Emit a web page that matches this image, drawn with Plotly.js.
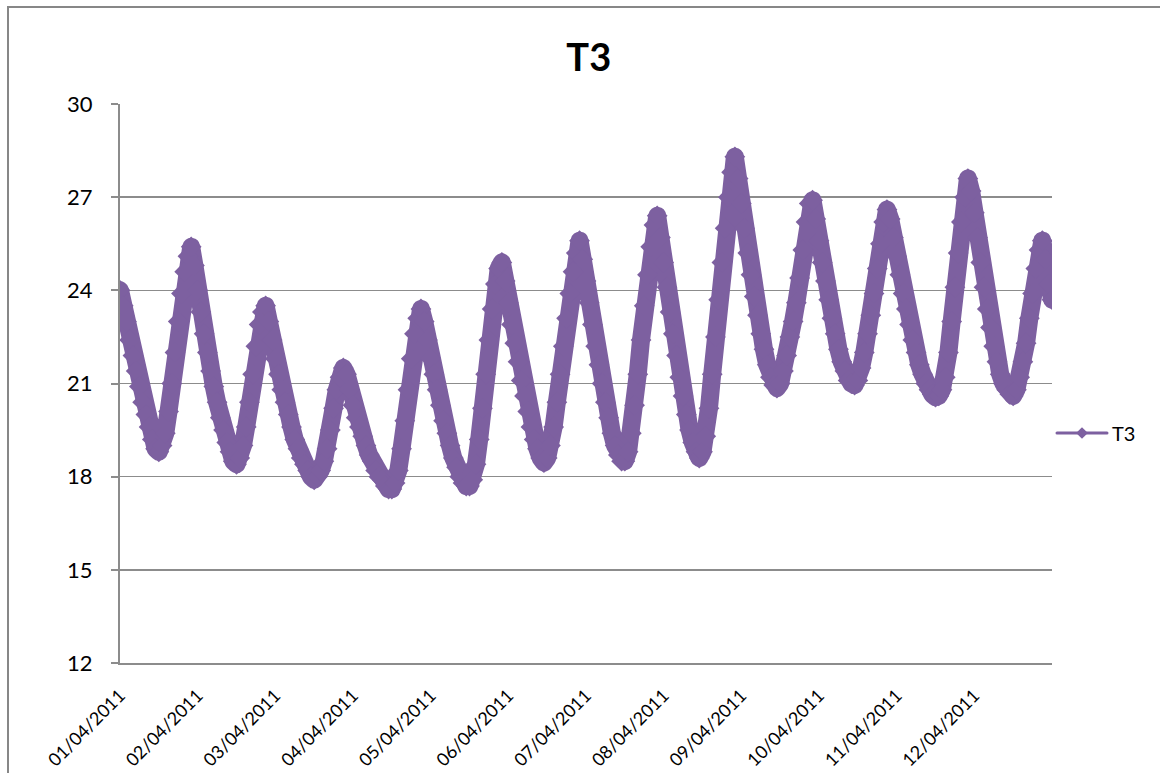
<!DOCTYPE html>
<html>
<head>
<meta charset="utf-8">
<script src="https://cdn.plot.ly/plotly-3.0.1.min.js"></script>
<style>
  html, body { margin: 0; padding: 0; background: #ffffff; }
  #chart { position: absolute; left: 0; top: 0; width: 1160px; height: 773px; }
  #frame { position: absolute; left: 7px; top: 6px; width: 1200px; height: 800px;
           border-left: 2px solid #878787; border-top: 2px solid #878787; pointer-events: none; }
  .js-line { stroke-linejoin: round !important; stroke-linecap: round !important; }
</style>
</head>
<body>
<div id="chart"></div>
<div id="frame"></div>
<script>
// Hourly readings of T3 starting 01/04/2011 00:00
const seriesName = 'T3';
const startTime = '2011-04-01 00:00';
const endTime = '2011-04-13 00:00';
const t3Values = [
  24.0, 23.5, 23.0, 22.4, 21.9, 21.4, 20.9, 20.4, 20.0, 19.6, 19.2, 18.9, 18.8,
  19.0, 19.4, 20.1, 21.0, 22.0, 23.0, 23.9, 24.6, 25.1, 25.4,
  24.8, 24.0, 23.3, 22.6, 22.0, 21.4, 20.9, 20.4, 19.9, 19.5, 19.1, 18.8, 18.5, 18.4,
  18.6, 19.0, 19.6, 20.4, 21.3, 22.2, 22.9, 23.3, 23.5,
  23.0, 22.4, 21.8, 21.3, 20.8, 20.4, 20.0, 19.6, 19.2, 18.9, 18.6, 18.4, 18.2, 18.0, 17.9,
  18.0, 18.2, 18.5, 18.9, 19.5, 20.2, 20.8, 21.2, 21.5,
  21.3, 20.8, 20.3, 19.9, 19.6, 19.3, 19.0, 18.7, 18.5, 18.2, 18.0, 17.9, 17.7, 17.6, 17.6,
  17.8, 18.2, 18.9, 19.8, 20.8, 21.8, 22.6, 23.1, 23.4,
  23.0, 22.4, 21.8, 21.3, 20.8, 20.3, 19.8, 19.4, 19.0, 18.6, 18.3, 18.0, 17.8, 17.7, 17.7,
  17.9, 18.4, 19.2, 20.2, 21.3, 22.4, 23.4, 24.2, 24.7, 24.9,
  24.3, 23.6, 22.9, 22.3, 21.7, 21.1, 20.6, 20.1, 19.6, 19.2, 18.9, 18.6, 18.45,
  18.6, 19.0, 19.6, 20.4, 21.3, 22.2, 23.1, 23.9, 24.6, 25.2, 25.6,
  25.0, 24.3, 23.6, 22.9, 22.2, 21.6, 21.0, 20.4, 19.9, 19.4, 19.0, 18.7, 18.5, 18.5,
  18.8, 19.4, 20.3, 21.3, 22.4, 23.5, 24.5, 25.4, 26.1, 26.4,
  25.7, 24.9, 24.1, 23.3, 22.6, 21.9, 21.2, 20.6, 20.0, 19.5, 19.1, 18.8, 18.6,
  18.8, 19.3, 20.2, 21.3, 22.5, 23.7, 24.9, 26.0, 27.0, 27.8, 28.3,
  27.6, 26.8, 26.0, 25.2, 24.5, 23.8, 23.2, 22.6, 22.1, 21.6, 21.2, 20.95, 20.85,
  21.0, 21.4, 21.9, 22.5, 23.0, 23.6, 24.4, 25.3, 26.2, 26.8, 26.9,
  26.3, 25.6, 24.9, 24.3, 23.7, 23.1, 22.6, 22.1, 21.7, 21.4, 21.1, 21.0, 20.95,
  21.1, 21.5, 22.0, 22.6, 23.2, 23.9, 24.7, 25.5, 26.2, 26.6,
  26.3, 25.7, 25.1, 24.5, 23.9, 23.4, 22.9, 22.4, 22.0, 21.6, 21.3, 21.0, 20.8, 20.65, 20.56, 20.6,
  20.8, 21.2, 22.0, 23.0, 24.1, 25.2, 26.2, 27.0, 27.6,
  27.2, 26.5, 25.7, 24.9, 24.1, 23.4, 22.8, 22.2, 21.7, 21.3, 21.0, 20.8, 20.65, 20.6,
  20.8, 21.2, 21.7, 22.3, 23.1, 23.9, 24.7, 25.3, 25.6, 25.0, 24.2, 23.7
];
const dayTicks = ['2011-04-01','2011-04-02','2011-04-03','2011-04-04','2011-04-05','2011-04-06',
                  '2011-04-07','2011-04-08','2011-04-09','2011-04-10','2011-04-11','2011-04-12'];
const dayLabels = ['01/04/2011','02/04/2011','03/04/2011','04/04/2011','05/04/2011','06/04/2011',
                   '07/04/2011','08/04/2011','09/04/2011','10/04/2011','11/04/2011','12/04/2011'];
const yTicks = [12, 15, 18, 21, 24, 27, 30];

const purple = '#7D60A0';
const gridGray = '#8C8C8C';
const fontFam = 'Lato';

const traces = [
  {
    type: 'scatter', mode: 'lines+markers',
    y: t3Values, x0: startTime, dx: 3600000,
    line: { color: purple, width: 18 },
    marker: { symbol: 'diamond', size: 16, color: purple, line: { width: 0 } },
    showlegend: false, hoverinfo: 'x+y', name: seriesName
  },
  {
    type: 'scatter', mode: 'lines+markers',
    x: [null], y: [null],
    line: { color: purple, width: 3 },
    marker: { symbol: 'diamond', size: 9, color: purple },
    name: seriesName, showlegend: true
  }
];

const layout = {
  width: 1160, height: 773,
  margin: { l: 120, r: 100, t: 104, b: 110 },
  paper_bgcolor: '#ffffff', plot_bgcolor: '#ffffff',
  font: { family: fontFam, color: '#000000' },
  title: {
    text: '<b>T3</b>', font: { family: fontFam, size: 38, color: '#000000' },
    x: 0.503, xanchor: 'center', xref: 'paper',
    y: 0.926, yanchor: 'middle', yref: 'container'
  },
  xaxis: {
    type: 'date',
    range: [startTime, endTime],
    tickmode: 'array', tickvals: dayTicks, ticktext: dayLabels,
    tickangle: -45, tickfont: { size: 18, family: fontFam, color: '#000' },
    ticks: '', ticklabelstandoff: 13,
    showgrid: false, zeroline: false,
    showline: true, linecolor: gridGray, linewidth: 2
  },
  yaxis: {
    range: [12, 30],
    tickmode: 'array', tickvals: yTicks,
    tickfont: { size: 22, family: fontFam, color: '#000' },
    ticks: 'outside', ticklen: 7, tickcolor: gridGray, tickwidth: 2,
    ticklabelstandoff: 14,
    showgrid: true, gridcolor: gridGray, gridwidth: 1.6,
    zeroline: false,
    showline: true, linecolor: gridGray, linewidth: 2
  },
  legend: {
    x: 1052 / 1160, xref: 'container', xanchor: 'left',
    y: 1 - 433 / 773, yref: 'container', yanchor: 'middle',
    font: { size: 20, family: fontFam, color: '#000' },
    bgcolor: 'rgba(0,0,0,0)', itemwidth: 50
  },
  showlegend: true
};

Plotly.newPlot('chart', traces, layout, { displayModeBar: false, staticPlot: true });
</script>
</body>
</html>
